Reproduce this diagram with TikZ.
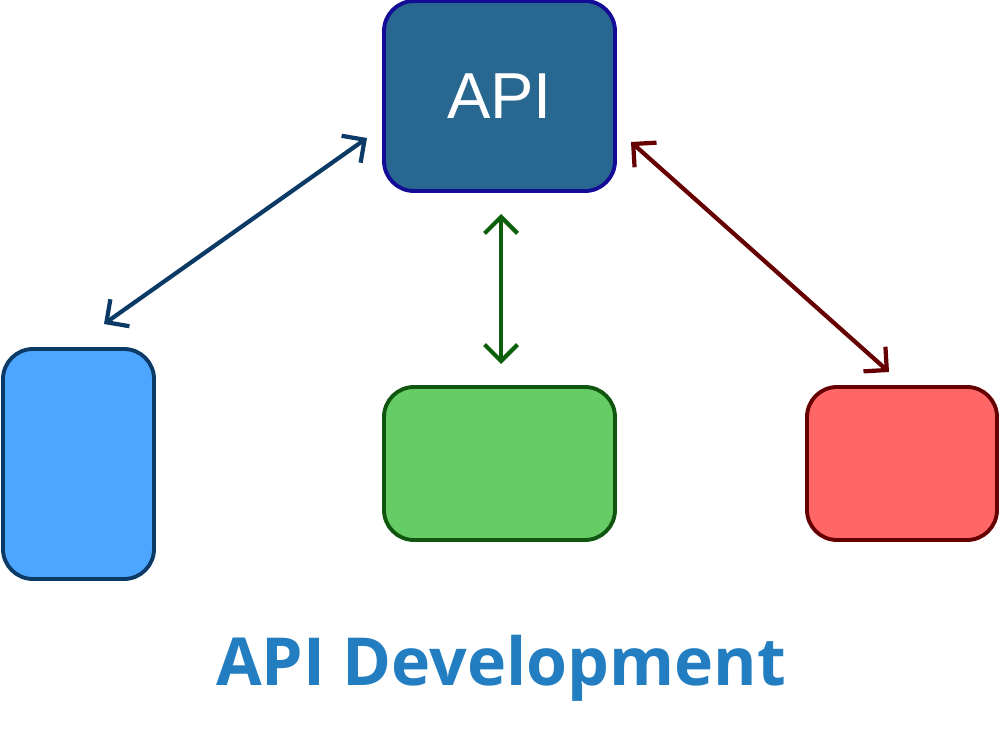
\documentclass[tikz,border=0pt]{standalone}
\usepackage{fontspec}
\setmainfont{Liberation Sans}
\newfontfamily\apifont{Liberation Sans}
\newfontfamily\titlefont{Open Sans}
\usetikzlibrary{arrows.meta}

\definecolor{apifill}{RGB}{40,103,144}
\definecolor{apiline}{RGB}{20,12,150}
\definecolor{bluefill}{RGB}{77,166,255}
\definecolor{blueline}{RGB}{12,58,102}
\definecolor{greenfill}{RGB}{102,204,102}
\definecolor{greenline}{RGB}{16,85,16}
\definecolor{greenarrow}{RGB}{12,96,12}
\definecolor{redfill}{RGB}{255,102,102}
\definecolor{redline}{RGB}{102,0,0}
\definecolor{titleblue}{RGB}{34,126,192}

\tikzset{
  box/.style={draw, line width=2.2pt, rounded corners=6mm, inner sep=0pt},
  link/.style={{Straight Barb[length=3.3mm,width=6.6mm]}-{Straight Barb[length=3.3mm,width=6.6mm]}, line width=2.4pt}
}

\begin{document}
\begin{tikzpicture}[x=0.2mm, y=-0.2mm]
  \useasboundingbox (0,0) rectangle (1000,750);

  \node[box, fill=apifill, draw=apiline, minimum width=46.2mm, minimum height=38mm,
        text=white, font=\apifont\fontsize{37}{40}\selectfont] (api) at (499.5,96) {API};
  \node[box, fill=bluefill, draw=blueline, minimum width=30.2mm, minimum height=46mm] (client) at (78.5,464) {};
  \node[box, fill=greenfill, draw=greenline, minimum width=46.2mm, minimum height=30.6mm] (server) at (499.5,463.5) {};
  \node[box, fill=redfill, draw=redline, minimum width=38mm, minimum height=30.6mm] (store) at (902,463.5) {};

  % arrow ends
  \coordinate (apiW) at (367,138);
  \coordinate (apiS) at (501,214);
  \coordinate (apiE) at (631,142);
  \coordinate (clientN) at (104,324);
  \coordinate (serverN) at (501,364);
  \coordinate (storeN) at (889,372);

  \path[link]
    (clientN) edge[draw=blueline] (apiW)
    (serverN) edge[draw=greenarrow] (apiS)
    (storeN) edge[draw=redline] (apiE);

  % title
  \node[text=titleblue, font=\titlefont\bfseries\fontsize{37.7}{42}\selectfont] (title) at (501,668) {API Development};
\end{tikzpicture}
\end{document}
